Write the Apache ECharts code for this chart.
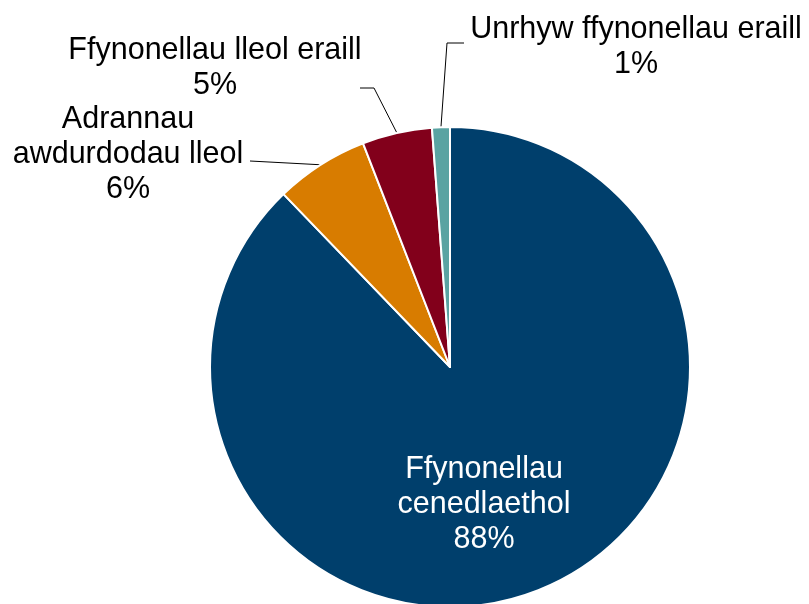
<!DOCTYPE html>
<html>
<head>
<meta charset="utf-8">
<script src="https://cdn.jsdelivr.net/npm/echarts@6/dist/echarts.min.js"></script>
<style>
  html, body { margin: 0; padding: 0; background: #fff; }
  #chart { width: 809px; height: 604px; }
</style>
</head>
<body>
<div id="chart"></div>
<script>
// data
const categories = ['Ffynonellau\ncenedlaethol', 'Adrannau\nawdurdodau lleol', 'Ffynonellau lleol eraill', 'Unrhyw ffynonellau eraill']
const shares = [87.8, 6.3, 4.7, 1.2]
const shareLabels = ['88%', '6%', '5%', '1%']
const colors = ['#003F6C', '#D87C00', '#82001B', '#5AA3A2']

// where each label sits (centre of text block) and how its leader line bends
const labelSpots = [
  { x: 484, y: 505 },
  { x: 128, y: 155, line: [[250, 161]] },
  { x: 215, y: 68, line: [[374, 88], [360, 88]] },
  { x: 636, y: 47, line: [[447, 43], [464, 43]] }
]

const chart = echarts.init(document.getElementById('chart'))

const option = {
  animation: false,
  textStyle: { fontFamily: 'Liberation Sans, Arial, sans-serif' },
  series: [{
    type: 'pie',
    center: [450, 367],
    radius: 240,
    startAngle: 90,
    clockwise: true,
    itemStyle: { borderColor: '#fff', borderWidth: 2 },
    label: {
      show: true,
      fontSize: 30.5,
      lineHeight: 35,
      color: '#000',
      align: 'center',
      overflow: 'none',
      fontFamily: 'Liberation Sans, Arial, sans-serif',
      formatter: p => p.name + '\n' + shareLabels[p.dataIndex]
    },
    labelLine: { show: true, lineStyle: { color: '#000', width: 1 } },
    labelLayout: function (params) {
      const s = labelSpots[params.dataIndex]
      const out = { x: s.x, y: s.y, align: 'center', verticalAlign: 'middle' }
      if (s.line && params.labelLinePoints) {
        out.labelLinePoints = [params.labelLinePoints[0]].concat(s.line)
      }
      return out
    },
    data: categories.map((c, i) => ({
      name: c,
      value: shares[i],
      itemStyle: { color: colors[i] },
      label: i === 0 ? { color: '#fff' } : {},
      labelLine: i === 0 ? { show: false } : {}
    }))
  }]
}

chart.setOption(option)
</script>
</body>
</html>
